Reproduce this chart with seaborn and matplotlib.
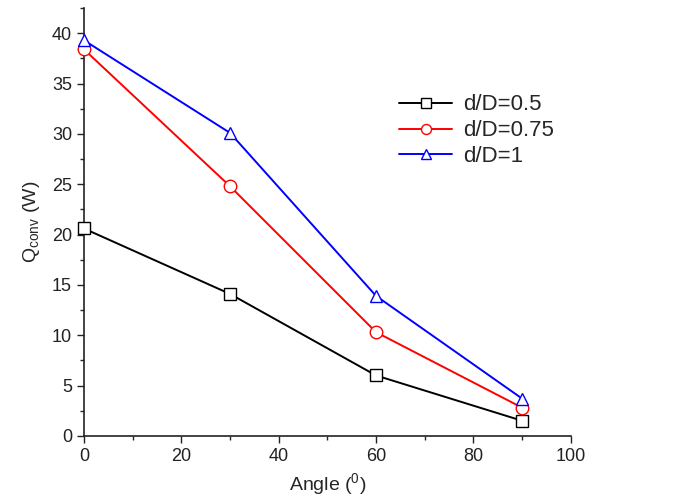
import matplotlib
matplotlib.use("Agg")
import matplotlib.pyplot as plt
import seaborn as sns
import pandas as pd
from matplotlib.ticker import MultipleLocator

angles = [0, 30, 60, 90]
q_05 = [20.6, 14.1, 6.0, 1.5]
q_075 = [38.4, 24.8, 10.3, 2.8]
q_1 = [39.3, 30.1, 13.9, 3.7]
labels = ["d/D=0.5", "d/D=0.75", "d/D=1"]

df = pd.DataFrame({
    "Angle": angles * 3,
    "Q": q_05 + q_075 + q_1,
    "series": [labels[0]] * 4 + [labels[1]] * 4 + [labels[2]] * 4,
})

sns.set_style("ticks")
plt.rcParams['font.family'] = ['Liberation Sans', 'DejaVu Sans']
plt.rcParams['mathtext.fontset'] = 'custom'
plt.rcParams['mathtext.rm'] = 'Liberation Sans'

fig = plt.figure(figsize=(6.82, 5.01), dpi=100)
ax = fig.add_axes([0.123, 0.13, 0.714, 0.854])

palette = {labels[0]: "black", labels[1]: "#ff0000", labels[2]: "#0000ff"}
markers = {labels[0]: "s", labels[1]: "o", labels[2]: "^"}
sns.lineplot(data=df, x="Angle", y="Q", hue="series", style="series",
             palette=palette, markers=markers, dashes=False, ax=ax,
             markersize=9, markerfacecolor="white", markeredgewidth=1.0,
             linewidth=1.4, clip_on=False, zorder=3)

for line in ax.get_lines():
    line.set_markerfacecolor("white")
    line.set_markeredgecolor(line.get_color())

ax.set_xlim(0, 100)
ax.set_ylim(0, 42.5)
ax.xaxis.set_major_locator(MultipleLocator(20))
ax.xaxis.set_minor_locator(MultipleLocator(10))
ax.yaxis.set_major_locator(MultipleLocator(5))
ax.yaxis.set_minor_locator(MultipleLocator(2.5))
ax.tick_params(which="major", direction="out", length=5, width=1, labelsize=13, colors="#222222")
ax.tick_params(which="minor", direction="out", length=3, width=1)
sns.despine(ax=ax)
for s in ["left", "bottom"]:
    ax.spines[s].set_linewidth(1.2)
    ax.spines[s].set_color("#222222")

ax.set_xlabel("Angle ($^{\\mathregular{0}}$)", fontsize=14, labelpad=5)
ax.set_ylabel("Q$_{\\mathregular{conv}}$ (W)", fontsize=14, labelpad=7)

leg = ax.legend(title=None, loc="center left", bbox_to_anchor=(0.607, 0.713),
                frameon=False, fontsize=16, handlelength=2.35,
                labelspacing=0.22, handletextpad=0.5, markerscale=0.8)
for h in leg.legend_handles:
    h.set_markerfacecolor("white")

fig.savefig("out.png", dpi=100)
